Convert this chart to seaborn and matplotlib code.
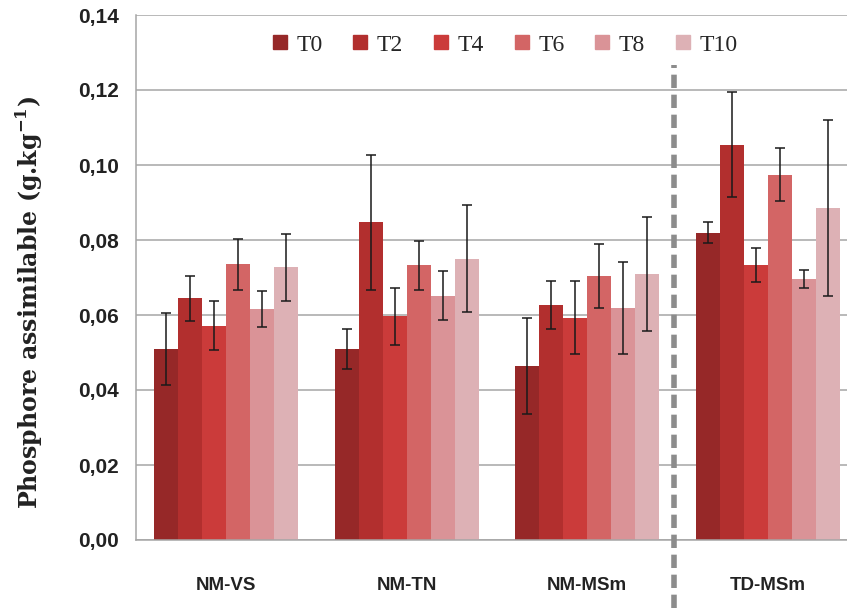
# -*- coding: utf-8 -*-
# Phosphore assimilable par site et par date (barres groupees + ecarts-types)

import pandas as pd
import numpy as np
import matplotlib
matplotlib.use("Agg")
import matplotlib.pyplot as plt
import seaborn as sns
from matplotlib.lines import Line2D

# data
sites = ["NM-VS", "NM-TN", "NM-MSm", "TD-MSm"]
temps = ["T0", "T2", "T4", "T6", "T8", "T10"]

t0 = [0.0509, 0.0510, 0.0464, 0.0819]
t2 = [0.0645, 0.0847, 0.0626, 0.1054]
t4 = [0.0572, 0.0597, 0.0593, 0.0733]
t6 = [0.0735, 0.0733, 0.0704, 0.0974]
t8 = [0.0615, 0.0652, 0.0619, 0.0697]
t10 = [0.0727, 0.0750, 0.0709, 0.0886]

e0 = [0.0096, 0.0053, 0.0128, 0.0028]
e2 = [0.0060, 0.0180, 0.0064, 0.0140]
e4 = [0.0065, 0.0076, 0.0097, 0.0045]
e6 = [0.0067, 0.0065, 0.0086, 0.0071]
e8 = [0.0048, 0.0065, 0.0123, 0.0024]
e10 = [0.0090, 0.0143, 0.0152, 0.0234]

colors = ["#962828", "#B22F2E", "#CB3B3A", "#D36565", "#DA9397", "#DDB1B5"]

values = [t0, t2, t4, t6, t8, t10]
errors = [e0, e2, e4, e6, e8, e10]

df = pd.DataFrame({
    "Site": np.tile(sites, len(temps)),
    "Temps": np.repeat(temps, len(sites)),
    "P": np.concatenate(values),
})

sns.set_style("white")
serif = ["Liberation Serif", "DejaVu Serif"]
sans = ["Liberation Sans", "DejaVu Sans"]

fig = plt.figure(figsize=(8.47, 6.08), dpi=100)
# axes right edge goes a little past the picture, as in the original crop
ax = fig.add_axes([136 / 847, 68 / 608, 722 / 847, 525 / 608])

sns.barplot(data=df, x="Site", y="P", hue="Temps", order=sites, hue_order=temps,
            palette=colors, saturation=1, width=0.8, errorbar=None,
            linewidth=0, ax=ax, zorder=2)

# error bars on top of each bar
for cont, err in zip(ax.containers, errors):
    xs = [b.get_x() + b.get_width() / 2 for b in cont]
    hs = [b.get_height() for b in cont]
    ax.errorbar(xs, hs, yerr=err, fmt="none", ecolor="#1a1a1a",
                elinewidth=1.1, capsize=3.5, capthick=1.1, zorder=3)

ax.set_ylim(0, 0.14)
ax.set_xlim(-0.5, 3.5)
ax.set_yticks(np.arange(0, 0.1401, 0.02))
ax.set_yticklabels([f"{v:.2f}".replace(".", ",") for v in np.arange(0, 0.1401, 0.02)],
                   fontsize=15, fontweight="bold", family=sans, color="#222222")

ax.yaxis.grid(True, color="#a6a6a6", linewidth=1.1, zorder=0)
ax.set_axisbelow(True)
for s in ["top", "right"]:
    ax.spines[s].set_visible(False)
for s in ["left", "bottom"]:
    ax.spines[s].set_color("#a6a6a6")
    ax.spines[s].set_linewidth(1.1)

ax.tick_params(axis="y", direction="out", length=5, color="#a6a6a6", pad=7)
# category labels centred, tick marks between groups
ax.set_xticks(range(len(sites)))
ax.set_xticklabels(sites, fontsize=13.5, family=sans,
                   fontweight="bold", color="#222222")
ax.set_xticks(np.arange(-0.5, 3.6, 1), minor=True)
ax.tick_params(axis="x", which="major", length=0, pad=27)
ax.tick_params(axis="x", which="minor", direction="out", length=6, color="#a6a6a6")

ax.set_xlabel("")
ax.set_ylabel("Phosphore assimilable (g.kg$^{\\mathregular{-1}}$)",
              family=["DejaVu Serif"], fontsize=17, fontweight="bold",
              color="#222222", labelpad=24)
ax.yaxis.label.set_y(0.453)

# dashed separator before TD-MSm
ax.axvline(2.48, ymin=-0.13, ymax=0.905, color="#8c8c8c", linewidth=4,
           linestyle=(0, (2.4, 1.2)), clip_on=False, zorder=4)

handles = [Line2D([0], [0], marker="s", linestyle="none", markersize=10,
                  markerfacecolor=c, markeredgecolor=c) for c in colors]
ax.legend(handles, temps, loc="center", bbox_to_anchor=(0.508, 0.943), ncol=6,
          frameon=False, prop={"family": serif, "size": 17},
          handletextpad=0.2, columnspacing=1.1, handlelength=1.0)

fig.savefig("out.png", dpi=100)
